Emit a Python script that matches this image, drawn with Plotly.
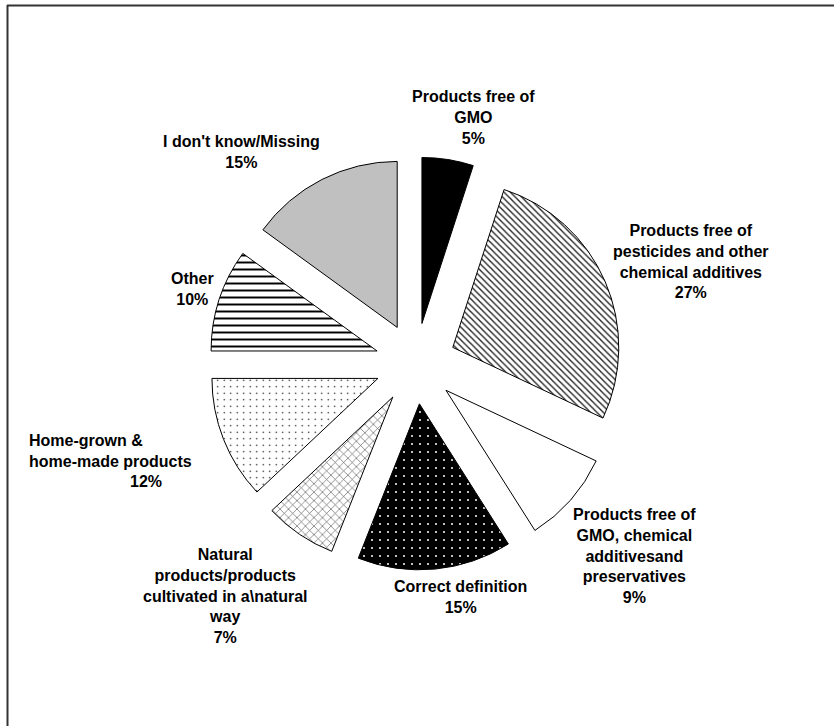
import plotly.graph_objects as go

# ---- data ----
labels = [
    "Products free of<br>GMO",
    "Products free of<br>pesticides and other<br>chemical additives",
    "Products free of<br>GMO, chemical<br>additivesand<br>preservatives",
    "Correct definition",
    "Natural<br>products/products<br>cultivated in a\\natural<br>way",
    "Home-grown &<br>home-made products",
    "Other",
    "I don't know/Missing",
]
values = [5, 27, 9, 15, 7, 12, 10, 15]

# ---- styles ----
bg_colors = ["#000000", "#ffffff", "#ffffff", "#000000", "#ffffff", "#ffffff", "#ffffff", "#c0c0c0"]
fg_colors = ["#000000", "#222222", "#000000", "#ffffff", "#555555", "#000000", "#000000", "#c0c0c0"]
shapes_pat = ["", "\\", "", ".", "x", ".", "-", ""]
sizes_pat = [6, 4.5, 6, 8, 6, 6.5, 7, 6]
solid_pat = [0.3, 0.3, 0.3, 0.05, 0.2, 0.04, 0.28, 0.3]

W, H = 834, 726
cx, cy = 415.6, 363.5      # pie centre in px (from top-left)
R = 166.0                  # slice radius in px
PULL = 0.244
half = R * (1 + PULL)

fig = go.Figure(go.Pie(
    labels=labels,
    values=values,
    sort=False,
    direction="clockwise",
    rotation=0,
    pull=[PULL] * len(values),
    textinfo="none",
    hoverinfo="label+percent",
    marker=dict(
        colors=bg_colors,
        line=dict(color="#000000", width=1),
        pattern=dict(shape=shapes_pat, fgcolor=fg_colors, bgcolor=bg_colors,
                     size=sizes_pat, solidity=solid_pat, fillmode="replace"),
    ),
    domain=dict(x=[(cx - half) / W, (cx + half) / W],
                y=[(H - cy - half) / H, (H - cy + half) / H]),
    showlegend=False,
))

total = sum(values)
pcts = [f"{round(100 * v / total)}%" for v in values]

# label positions (px, centre of text block)
label_pos = [(473, 118), (691, 261), (634, 556), (460, 597),
             (225, 596), (27, 451), (192, 289), (242, 152)]

font = dict(family="Arial, Liberation Sans, sans-serif", size=16, color="#000000")
annotations = []
for i, (lab, pct, (px, py)) in enumerate(zip(labels, pcts, label_pos)):
    if i == 5:
        annotations.append(dict(text=f"<b>{lab}</b>", x=px / W, y=1 - py / H,
                                xref="paper", yref="paper", xanchor="left", yanchor="middle",
                                align="left", showarrow=False, font=font))
        annotations.append(dict(text=f"<b>{pct}</b>", x=146 / W, y=1 - 481 / H,
                                xref="paper", yref="paper", xanchor="center", yanchor="middle",
                                showarrow=False, font=font))
    else:
        annotations.append(dict(text=f"<b>{lab}<br>{pct}</b>", x=px / W, y=1 - py / H,
                                xref="paper", yref="paper", xanchor="center", yanchor="middle",
                                align="center", showarrow=False, font=font))

frame = [
    dict(type="line", xref="paper", yref="paper", x0=7 / W, x1=1.0, y0=1 - 5.5 / H, y1=1 - 5.5 / H,
         line=dict(color="#333333", width=2)),
    dict(type="line", xref="paper", yref="paper", x0=7.5 / W, x1=7.5 / W, y0=0, y1=1 - 5 / H,
         line=dict(color="#333333", width=2)),
]

fig.update_layout(
    width=W, height=H,
    margin=dict(l=0, r=0, t=0, b=0),
    paper_bgcolor="#ffffff",
    plot_bgcolor="#ffffff",
    annotations=annotations,
    shapes=frame,
    font=font,
)

fig.write_html("out.html")
